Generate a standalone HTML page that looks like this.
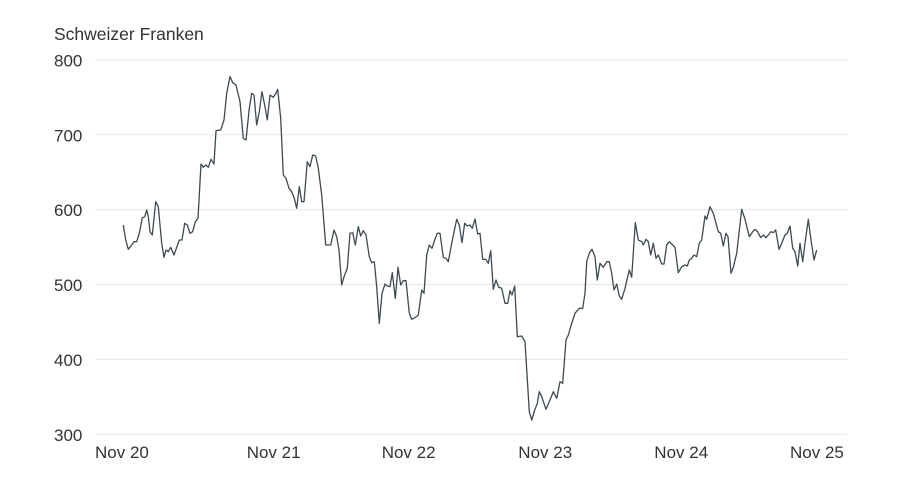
<!DOCTYPE html>
<html><head><meta charset="utf-8"><style>
html,body{margin:0;padding:0;background:#fff;}
svg{display:block;}
text{font-family:"Liberation Sans",sans-serif;fill:#333;}
</style></head><body>
<svg width="900" height="488" viewBox="0 0 900 488" xmlns="http://www.w3.org/2000/svg">
<rect width="900" height="488" fill="#fff"/>
<g stroke="#e6e6e6" stroke-width="1">
<line x1="95" y1="60" x2="847" y2="60"/>
<line x1="95" y1="134.8" x2="847" y2="134.8"/>
<line x1="95" y1="209.6" x2="847" y2="209.6"/>
<line x1="95" y1="284.5" x2="847" y2="284.5"/>
<line x1="95" y1="359.4" x2="847" y2="359.4"/>
<line x1="95" y1="434.3" x2="847" y2="434.3"/>
</g>
<text x="54" y="40" font-size="17.5">Schweizer Franken</text>
<g font-size="17">
<text x="54" y="66.5">800</text>
<text x="54" y="141.3">700</text>
<text x="54" y="216.1">600</text>
<text x="54" y="291">500</text>
<text x="54" y="365.9">400</text>
<text x="54" y="440.8">300</text>
<text x="95" y="458">Nov 20</text>
<text x="246.7" y="458">Nov 21</text>
<text x="381.7" y="458">Nov 22</text>
<text x="518.3" y="458">Nov 23</text>
<text x="654.3" y="458">Nov 24</text>
<text x="790" y="458">Nov 25</text>
</g>
<polyline fill="none" stroke="#3d4a50" stroke-width="1.3" stroke-linejoin="round" points="
123.3,225 125.7,240 128.3,249.3 131.7,245 134,241.7 136.7,241.7 139.3,233.3 142.3,217.7 144.7,216.7 146.7,210 148.3,216.7 150,231.7 152.3,235 155.7,201.7 158.3,206.7 161.7,243.3 164,257.3 166,250 168.3,251.7 170.7,247.3 174,255 176.7,247.3 179.3,240 182,240 184.7,223.3 187.3,225 190,233.3 192.7,231.7 195.3,221.7 198,218.3 201,164 203.3,167.3 206,165 208.3,167.3 211,159.3 214,164 216,130.7 220.7,130 224,120 226.7,93.3 230,76.7 232.7,82.7 236,85 240,101.7 243.3,138.3 246,140 249.3,108.3 251.7,93.3 254,95 256.7,125 259.3,111.7 262,91.7 265,106.7 267.3,120 270,95 273.3,97.3 276,93.3 277.7,89.3 280.7,118.3 283.3,175 286,178.3 289,188.3 291.7,191.7 294.3,198.3 296.7,208.3 299.3,186.7 301.7,201.7 304,201.7 307.3,161.7 310,166.7 312.7,155 315.7,156 318.3,168.3 321.7,195 325.7,245 330.7,245 334,230 336.7,236.7 339,250 341.7,285 344,276.7 347.3,268.3 350,233.3 352.7,232.7 355.3,245 358.3,226.7 360.7,236 363.3,230.7 366,235 369.3,256.7 371.7,262.7 374.3,261.7 376.7,286.7 379.3,323.3 382,293.3 385,284 387.3,286 390,286.7 392.3,272.7 395.3,298.3 398,267.3 400.7,285 403.3,280.7 406,280.7 409.3,313.3 411.7,319.3 415,317.7 418.3,315 421.7,290 424,293.3 426.7,255 429.3,245 432,248.3 434.7,240 437.3,233.3 440,233.3 443.3,257.3 446,258.3 448.3,261.7 451.7,243.3 456.7,219.3 459.3,225 462,242.7 464.7,223.3 467.3,226 470,225 472.3,228.3 475,219 477.7,234 480,233.3 482.7,259.3 485.7,259.3 488.3,263.3 490.7,250.7 493.3,289.3 496,280 498.7,287.3 501.7,288.3 505,303.3 507.7,303.3 510,290.7 512,295 514.7,286 517.3,336.7 521.7,336 525,341.7 529.3,411.7 531.7,420 535,409.3 537.3,403.3 539.3,391.7 541.7,396.7 546,409.3 550,400 553.3,391.7 556.7,398.3 560,381.7 562.7,383.3 566,340 568.3,335 571.7,323.3 575,313.3 579.3,308.3 582.7,308.3 585,293.3 586.7,261.7 589.3,253.3 592,249.3 595,256.7 597.3,280 600,263.3 603.3,267.3 606.7,261.7 609.3,261.7 611.7,273.3 614,290 616.7,284 619.3,296 621.7,299.3 625,288.3 629.3,270 631.7,277.3 635.3,222.7 638.3,240 641.7,241.7 643.3,245 646,239.3 648.3,241.7 650.7,255 653.3,243.3 656,258.3 658.3,255 661.7,264 664,264 666.7,245 669.3,241.7 672.7,245 675,247.3 678.3,272.7 681.7,266.7 685,265 687.3,266 689.3,260 691.7,258.3 694,255 696.7,256.7 699.3,243.3 701.7,240 705,216 706.7,219.3 710,206.7 713.3,213.3 718.3,231.7 720.7,233.3 723.3,246 726,233.3 728,236.7 731,273.3 733.3,267.3 736.7,253.3 741.7,209.3 745,219.3 749.3,236.7 752.7,231.7 755,229.3 757.7,231.7 760.7,237.7 763.3,235 766,237.7 768.3,235 771,231.7 773.3,232.7 775.7,230 779,249.3 781.7,243.3 785,235 787.3,233.3 790,226 792.7,248.3 795,251.7 797.7,266 800,243.3 802.7,261.7 805,243.3 808.3,219.3 811,240 814,260 816.7,250"/>
</svg>
</body></html>
